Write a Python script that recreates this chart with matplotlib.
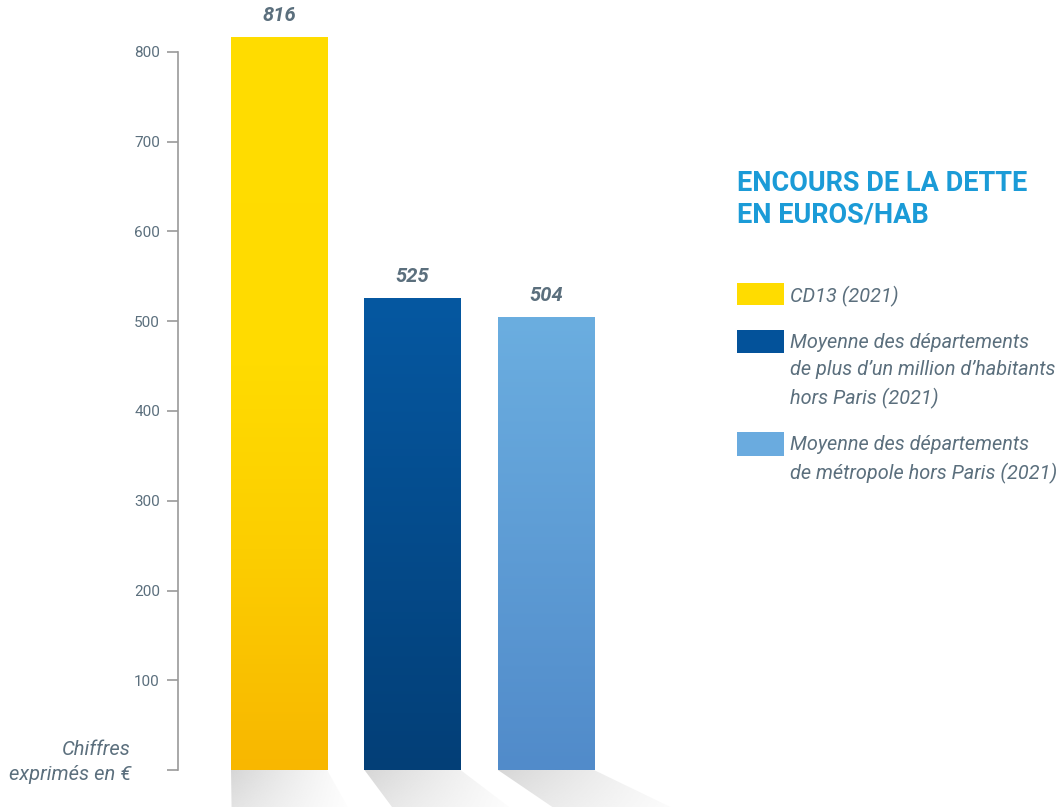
import numpy as np
import matplotlib.pyplot as plt
from matplotlib.patches import Polygon, Rectangle
from matplotlib.colors import LinearSegmentedColormap

plt.rcParams['font.family'] = ['Roboto', 'DejaVu Sans']

# Encours de la dette par habitant (euros)
categories = ["CD13 (2021)",
              "Moyenne des départements\nde plus d\u2019un million d\u2019habitants\nhors Paris (2021)",
              "Moyenne des départements\nde métropole hors Paris (2021)"]
values = [816, 525, 504]
yticks = [0, 100, 200, 300, 400, 500, 600, 700, 800]
ytick_labels = ["", "100", "200", "300", "400", "500", "600", "700", "800"]

flat_colors = ["#FFDC00", "#03529A", "#6AABDF"]
# dégradés bas -> haut
gradients = [
    [(0.0, "#F8B700"), (0.3, "#FCCE00"), (0.55, "#FFDB00"), (1.0, "#FFDD00")],
    [(0.0, "#033F77"), (1.0, "#0658A1")],
    [(0.0, "#518BCA"), (1.0, "#6BAEE0")],
]

text_col = "#5B6F7D"
title_col = "#1B9BD7"

fig = plt.figure(figsize=(10.61, 8.07), dpi=100)
ax = fig.add_axes([0.1678, 0.0, 0.492, 0.969])

x = np.arange(len(values))
width = 0.72

ax.set_xlim(-0.757, 3.154)
ax.set_ylim(-41.2, 830)

for i, v in enumerate(values):
    cmap = LinearSegmentedColormap.from_list("g%d" % i, gradients[i])
    grad = np.linspace(0, 1, 256).reshape(-1, 1)
    ax.imshow(grad, cmap=cmap, origin="lower", aspect="auto",
              extent=[x[i] - width / 2, x[i] + width / 2, 0, v], zorder=3)

    # ombre portée sous chaque barre
    left, right = x[i] - width / 2, x[i] + width / 2
    lx = (left + 0.38) * 0.21 * 1.4
    rx = (right + 0.38) * 0.21 * 1.45
    depth = -60
    poly = Polygon([(left, 0), (right, 0), (right + rx, depth), (left + lx, depth)],
                   closed=True, facecolor="none", edgecolor="none")
    ax.add_patch(poly)
    u = np.linspace(0, 1, 200)
    w = np.linspace(0, 1, 60).reshape(-1, 1)
    alpha = (1 - u) ** 1.2 * (0.55 + 0.45 * w)
    rgba = np.zeros((60, 200, 4))
    rgba[..., :3] = 0.80
    rgba[..., 3] = alpha * 0.8
    im = ax.imshow(rgba, origin="lower", aspect="auto",
                   extent=[left, right + rx, depth, 0], zorder=1)
    im.set_clip_path(poly)

ax.set_xlim(-0.757, 3.154)
ax.set_ylim(-41.2, 830)

for i, v in enumerate(values):
    ax.annotate(str(v), (x[i], v), xytext=(0, 9), textcoords="offset points",
                ha="center", va="bottom", fontsize=14.5, fontweight="bold",
                fontstyle="italic", color=text_col)

for s in ["top", "right", "bottom"]:
    ax.spines[s].set_visible(False)
ax.spines["left"].set_bounds(0, 800)
ax.spines["left"].set_color("#9A9A9A")
ax.spines["left"].set_linewidth(1.2)
ax.set_yticks(yticks)
ax.set_yticklabels(ytick_labels)
ax.tick_params(axis="y", length=8, width=1.2, color="#9A9A9A",
               labelcolor=text_col, labelsize=11, pad=5)
ax.set_xticks([])
ax.patch.set_alpha(0)

fig.text(131 / 1061, 1 - 762 / 807, "Chiffres\nexprimés en €", ha="right",
         va="center", fontsize=14.5, fontstyle="italic", color=text_col,
         linespacing=1.45)

# titre et légende à droite
fig.text(737 / 1061, 1 - 170 / 807, "ENCOURS DE LA DETTE\nEN EUROS/HAB",
         ha="left", va="top", fontsize=19.5, fontweight="bold", color=title_col,
         linespacing=1.22)

legend_rows = [(283, 305), (330, 353), (432, 456)]
for (top, bot), col, lab in zip(legend_rows, flat_colors, categories):
    fig.patches.append(Rectangle((737 / 1061, 1 - bot / 807), 47 / 1061,
                                 (bot - top) / 807, transform=fig.transFigure,
                                 facecolor=col, edgecolor="none"))
    fig.text(790 / 1061, 1 - (top + 3) / 807, lab, ha="left", va="top",
             fontsize=14.3, fontstyle="italic", color=text_col, linespacing=1.55)

fig.savefig("out.png", dpi=100)
